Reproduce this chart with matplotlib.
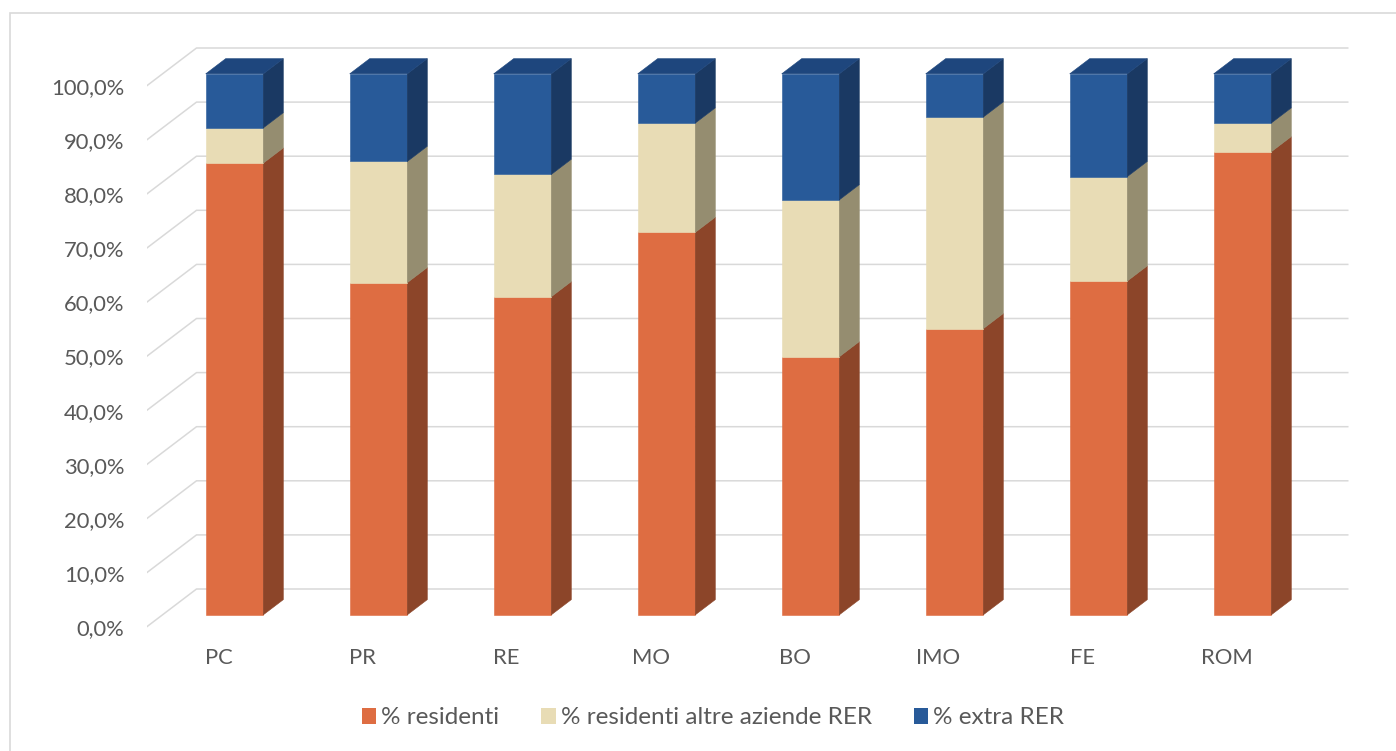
import matplotlib
matplotlib.use("Agg")
import matplotlib.pyplot as plt
from matplotlib.patches import Polygon, Patch, Rectangle

# share of admissions per health authority (percent of total)
categories = ["PC", "PR", "RE", "MO", "BO", "IMO", "FE", "ROM"]
residenti = [83.5, 61.4, 58.8, 70.7, 47.7, 52.9, 61.7, 85.6]
altre_rer = [6.5, 22.4, 22.6, 20.2, 29.0, 39.1, 19.3, 5.3]
extra_rer = [10.0, 16.2, 18.6, 9.1, 23.3, 8.0, 19.0, 9.1]
series_names = ["% residenti", "% residenti altre aziende RER", "% extra RER"]
yticks = [0, 10, 20, 30, 40, 50, 60, 70, 80, 90, 100]

# (front, side, top) shades per series
shades = [
    ("#DE6D42", "#8C4529", "#B5552F"),
    ("#E8DCB5", "#958D70", "#C4B993"),
    ("#285A99", "#1A3963", "#1E467D"),
]
TEXT = "#595959"
GRID = "#D9D9D9"
FONT = "Lato"
FS = 15.8
FS_LEG = 17.5

W, H = 1396, 751
PX_CAT = 144.0          # pixels per category step
PX_PCT = 5.41           # pixels per percent
X0_PX, Y0_PX = 218.5, 627.0   # pixel position of category 0 / 0% on the floor front

# oblique depth vector of the whole floor, in data units
DX, DY = 50.0 / PX_CAT, 38.0 / PX_PCT
F_FRONT, F_BACK = 0.32, 0.72   # bar depth span as fractions of the floor depth
BAR_W = 0.4

fig = plt.figure(figsize=(W / 100, H / 100), dpi=100)
fig.patches.append(Rectangle((10 / W, -0.05), 1.2, 1 - 13 / H + 0.05,
                             transform=fig.transFigure, fill=False,
                             edgecolor=GRID, lw=1.2))

left = (X0_PX - 0.5 * PX_CAT) / W
ax = fig.add_axes([left, 0, 1 - left, 1])
ax.set_xlim(-0.5, (W - X0_PX) / PX_CAT)
ax.set_ylim((Y0_PX - H) / PX_PCT, Y0_PX / PX_PCT)
for s in ax.spines.values():
    s.set_visible(False)
ax.set_xticks([])
ax.set_yticks(yticks)
ax.yaxis.set_major_formatter(plt.FuncFormatter(lambda v, _: ("%.1f%%" % v).replace(".", ",")))
ax.tick_params(axis="y", length=0, pad=15.8, labelsize=FS, labelcolor=TEXT)
for lab in ax.get_yticklabels():
    lab.set_fontfamily(FONT)

# side wall + back wall gridlines
n = len(categories)
for v in yticks:
    ax.plot([-0.5, -0.5 + DX, n - 0.5 + DX], [v, v + DY, v + DY],
            color=GRID, lw=1.1, solid_capstyle="butt", zorder=1)

fx, fy = F_FRONT * DX, F_FRONT * DY
bx, by = (F_BACK - F_FRONT) * DX, (F_BACK - F_FRONT) * DY

for i, cat in enumerate(categories):
    x1 = i - BAR_W / 2 + fx
    x2 = i + BAR_W / 2 + fx
    base = 0.0
    stack = [residenti[i], altre_rer[i], extra_rer[i]]
    for k, val in enumerate(stack):
        y1, y2 = base + fy, base + val + fy
        front, side, top = shades[k]
        ax.add_patch(Polygon([(x1, y1), (x2, y1), (x2, y2), (x1, y2)],
                             facecolor=front, edgecolor=front, lw=0.4, zorder=3))
        ax.add_patch(Polygon([(x2, y1), (x2 + bx, y1 + by), (x2 + bx, y2 + by), (x2, y2)],
                             facecolor=side, edgecolor=side, lw=0.4, zorder=3))
        if k == len(stack) - 1:
            ax.add_patch(Polygon([(x1, y2), (x2, y2), (x2 + bx, y2 + by), (x1 + bx, y2 + by)],
                                 facecolor=top, edgecolor=top, lw=0.4, zorder=3))
        base += val
    ax.text(i, -5.7, cat, ha="center", va="center", fontsize=FS,
            color=TEXT, fontfamily=FONT)

handles = [Patch(facecolor=shades[k][0], edgecolor="none") for k in range(3)]
fig.legend(handles, series_names, loc="center", ncol=3, frameon=False,
           bbox_to_anchor=(713 / W, 1 - 718 / H), handlelength=0.59, handleheight=0.59,
           handletextpad=0.2, columnspacing=1.73,
           prop={"family": FONT, "size": FS_LEG}, labelcolor=TEXT)

fig.savefig("out.png", dpi=100)
